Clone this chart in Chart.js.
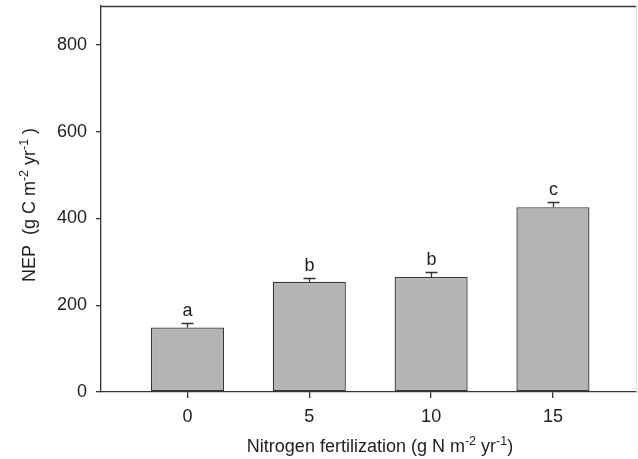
<!DOCTYPE html>
<html>
<head>
<meta charset="utf-8">
<script src="https://cdn.jsdelivr.net/npm/chart.js@4"></script>
<style>
  html, body { margin: 0; padding: 0; background: #fff; }
  #wrap { width: 638px; height: 459px; }
</style>
</head>
<body>
<div id="wrap"><canvas id="nepChart"></canvas></div>
<script>
// data
const nitrogen = [0, 5, 10, 15];
const nepMean = [149, 254, 265, 426];
const nepErr = [11, 10, 12, 13];
const sigLetters = ['a', 'b', 'b', 'c'];
const yTicks = [0, 200, 400, 600, 800];
const xTicks = [0, 5, 10, 15];

const FONT = '"Liberation Sans", Arial, sans-serif';
const INK = '#1e1e1e';

// draws text segments, some of them superscript
function drawRich(ctx, parts, x, y, align) {
    const base = '18px ' + FONT, sup = '12.5px ' + FONT;
    let total = 0;
    parts.forEach(p => { ctx.font = p.sup ? sup : base; total += ctx.measureText(p.t).width; });
    let cx = align === 'center' ? x - total / 2 : x;
    ctx.textAlign = 'left';
    ctx.textBaseline = 'alphabetic';
    parts.forEach(p => {
        ctx.font = p.sup ? sup : base;
        ctx.fillText(p.t, cx, p.sup ? y - 7.5 : y);
        cx += ctx.measureText(p.t).width;
    });
}

const extrasPlugin = {
    id: 'extras',
    afterDatasetsDraw(chart) {
        const { ctx, chartArea, scales } = chart;
        const xs = scales.x, ys = scales.y;
        ctx.save();
        // error bars (upper half only) and letters
        ctx.strokeStyle = '#333';
        ctx.lineWidth = 1.3;
        ctx.fillStyle = INK;
        nitrogen.forEach((n, i) => {
            const px = Math.round(xs.getPixelForValue(n)) + 0.5;
            const yTop = ys.getPixelForValue(nepMean[i]);
            const yErr = Math.round(ys.getPixelForValue(nepMean[i] + nepErr[i])) + 0.5;
            ctx.beginPath();
            ctx.moveTo(px, yTop);
            ctx.lineTo(px, yErr);
            ctx.moveTo(px - 6, yErr);
            ctx.lineTo(px + 6, yErr);
            ctx.stroke();
            ctx.font = '18px ' + FONT;
            ctx.textAlign = 'center';
            ctx.textBaseline = 'alphabetic';
            ctx.fillText(sigLetters[i], px, yErr - 8);
        });
        // frame: top and right sides
        ctx.lineWidth = 1.3;
        ctx.strokeStyle = '#3a3a3a';
        ctx.beginPath();
        ctx.moveTo(chartArea.left, chartArea.top + 0.5);
        ctx.lineTo(chartArea.right, chartArea.top + 0.5);
        ctx.stroke();
        ctx.lineWidth = 1;
        ctx.strokeStyle = '#e2e2e2';
        ctx.beginPath();
        ctx.moveTo(chartArea.right - 0.5, chartArea.top);
        ctx.lineTo(chartArea.right - 0.5, chartArea.bottom);
        ctx.stroke();

        // axis titles
        ctx.fillStyle = INK;
        drawRich(ctx, [
            { t: 'Nitrogen fertilization (g N m' }, { t: '-2', sup: true },
            { t: ' yr' }, { t: '-1', sup: true }, { t: ')' }
        ], 380, 452, 'center');
        ctx.translate(35, 205);
        ctx.rotate(-Math.PI / 2);
        drawRich(ctx, [
            { t: 'NEP  (g C m' }, { t: '-2', sup: true },
            { t: ' yr' }, { t: '-1', sup: true }, { t: ' )' }
        ], 0, 0, 'center');
        ctx.restore();
    }
};

new Chart(document.getElementById('nepChart'), {
    type: 'bar',
    data: {
        datasets: [{
            data: nitrogen.map((n, i) => ({ x: n, y: nepMean[i] })),
            backgroundColor: '#b4b4b4',
            borderColor: '#353535',
            borderWidth: 1.3,
            borderSkipped: false,
            barPercentage: 0.6,
            categoryPercentage: 1
        }]
    },
    options: {
        responsive: true,
        maintainAspectRatio: false,
        animation: false,
        events: [],
        layout: { padding: { left: 0, right: 1, top: 6, bottom: 0 } },
        plugins: { legend: { display: false }, tooltip: { enabled: false } },
        scales: {
            x: {
                type: 'linear',
                min: -3.55,
                max: 18.45,
                offset: false,
                grid: { offset: false, drawOnChartArea: false, drawTicks: true, tickLength: 6, color: '#333', lineWidth: 1.3 },
                border: { display: true, color: '#333', width: 1.3 },
                ticks: { font: { family: FONT, size: 18 }, color: INK, padding: 8 },
                afterBuildTicks: s => { s.ticks = xTicks.map(v => ({ value: v })); },
                afterFit: s => { s.height = 67; s.paddingLeft = 0; s.paddingRight = 0; }
            },
            y: {
                min: 0,
                max: 890,
                grid: { drawOnChartArea: false, drawTicks: true, tickLength: 5, color: '#333', lineWidth: 1.3 },
                border: { display: true, color: '#333', width: 1.3 },
                ticks: { font: { family: FONT, size: 18 }, color: INK, padding: 9 },
                afterBuildTicks: s => { s.ticks = yTicks.map(v => ({ value: v })); },
                afterFit: s => { s.width = 101; s.paddingTop = 0; s.paddingBottom = 0; }
            }
        }
    },
    plugins: [extrasPlugin]
});
</script>
</body>
</html>
